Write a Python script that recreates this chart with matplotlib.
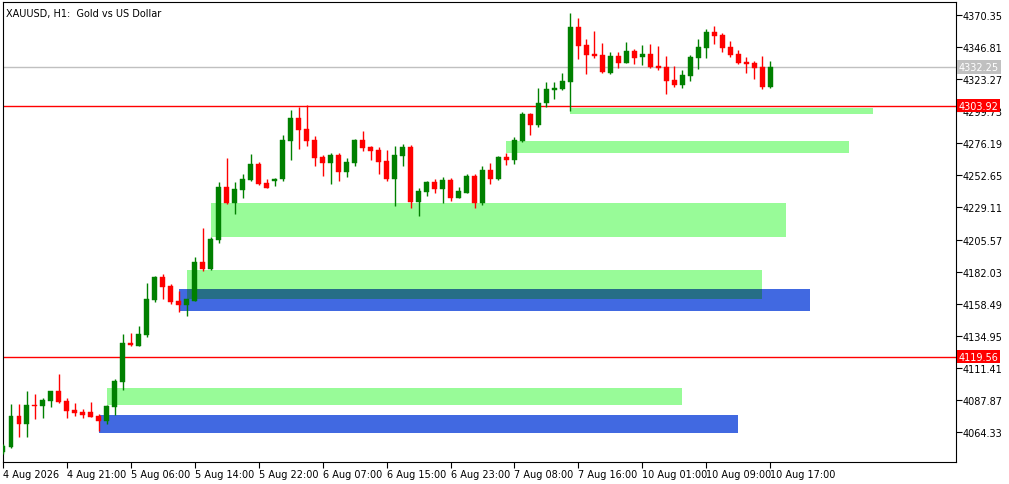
import numpy as np
import matplotlib.pyplot as plt
from matplotlib.patches import Rectangle

# XAUUSD H1 candles
opens = [4049.6, 4053.5, 4076.3, 4070.4, 4084.1, 4083.6, 4087.1, 4094.4, 4087.1, 4080.5, 4079.0, 4079.0, 4076.1,
         4072.6, 4082.9, 4101.2, 4129.6, 4127.6, 4135.5, 4161.2, 4178.1, 4171.5, 4160.5, 4157.7, 4160.7,
         4189.1, 4183.9, 4205.4, 4244.1, 4232.4, 4241.9, 4249.3, 4261.0, 4247.1, 4248.5, 4250.0, 4277.9,
         4294.8, 4286.7, 4278.6, 4266.1, 4261.7, 4267.6, 4255.1, 4261.7, 4278.6, 4273.5, 4271.3, 4263.2,
         4250.0, 4266.9, 4273.5, 4233.1, 4240.4, 4247.8, 4242.6, 4249.3, 4236.0, 4239.7, 4252.2, 4232.4,
         4256.6, 4250.0, 4266.1, 4263.9, 4277.9, 4297.7, 4289.6, 4305.8, 4315.3, 4316.0, 4321.2, 4361.5,
         4348.3, 4341.7, 4341.0, 4327.8, 4340.3, 4335.1, 4343.9, 4339.5, 4341.7, 4332.9, 4332.2, 4322.6,
         4319.0, 4325.6, 4338.8, 4346.1, 4357.9, 4355.7, 4346.9, 4341.7, 4335.9, 4335.1, 4332.2, 4317.5]
highs = [4055.5, 4084.9, 4084.9, 4094.4, 4092.2, 4089.3, 4094.4, 4106.9, 4089.3, 4085.6, 4081.2, 4086.3, 4077.5,
         4084.1, 4103.2, 4136.2, 4137.0, 4142.1, 4173.7, 4178.8, 4180.3, 4172.9, 4167.8, 4161.9, 4192.7,
         4214.0, 4207.4, 4247.8, 4265.4, 4247.8, 4253.7, 4268.3, 4262.5, 4250.0, 4250.7, 4282.3, 4300.6,
         4302.8, 4304.3, 4281.6, 4267.6, 4269.1, 4269.1, 4265.4, 4279.3, 4285.2, 4274.2, 4273.5, 4271.3,
         4274.2, 4275.7, 4274.9, 4243.4, 4248.5, 4250.0, 4251.5, 4250.7, 4244.1, 4253.7, 4253.7, 4259.5,
         4261.7, 4266.9, 4269.1, 4280.8, 4299.2, 4298.4, 4316.8, 4321.2, 4321.2, 4327.8, 4371.8, 4368.1,
         4352.7, 4358.6, 4349.8, 4343.2, 4343.2, 4350.5, 4345.4, 4348.3, 4349.1, 4347.6, 4340.3, 4332.9,
         4330.0, 4341.0, 4352.7, 4360.1, 4362.3, 4357.1, 4351.3, 4344.7, 4339.5, 4336.6, 4340.3, 4336.6]
lows = [4048.2, 4052.6, 4060.9, 4060.9, 4073.9, 4074.8, 4082.9, 4085.6, 4074.8, 4076.3, 4074.8, 4075.5, 4065.1,
        4070.4, 4077.0, 4095.4, 4127.4, 4127.6, 4134.0, 4159.7, 4161.9, 4158.3, 4152.6, 4149.7, 4160.7,
        4182.7, 4183.2, 4203.2, 4231.6, 4224.3, 4236.0, 4248.5, 4245.6, 4243.4, 4244.9, 4248.5, 4263.9,
        4272.0, 4274.2, 4259.5, 4252.2, 4246.3, 4248.5, 4251.5, 4259.5, 4270.5, 4263.9, 4253.7, 4248.5,
        4230.2, 4259.5, 4228.7, 4222.8, 4237.5, 4239.7, 4232.4, 4233.8, 4236.0, 4239.7, 4228.7, 4230.9,
        4246.3, 4249.3, 4260.3, 4261.0, 4277.1, 4282.3, 4288.2, 4302.8, 4308.7, 4315.3, 4299.9, 4338.1,
        4327.1, 4338.8, 4327.8, 4327.1, 4331.5, 4335.1, 4334.4, 4333.7, 4331.5, 4330.0, 4312.4, 4317.5,
        4316.8, 4321.9, 4330.7, 4338.8, 4349.1, 4343.2, 4339.5, 4334.4, 4327.8, 4323.4, 4316.0, 4316.8]
closes = [4054.0, 4076.3, 4070.4, 4084.1, 4083.6, 4087.8, 4094.4, 4086.3, 4080.0, 4078.5, 4077.0, 4075.5, 4072.6,
          4083.4, 4101.7, 4129.6, 4128.2, 4136.2, 4161.9, 4178.1, 4171.0, 4159.7, 4157.7, 4161.9, 4189.1,
          4184.2, 4206.0, 4244.1, 4232.4, 4242.6, 4250.0, 4261.0, 4246.3, 4243.4, 4250.0, 4278.6, 4294.8,
          4286.0, 4277.9, 4265.4, 4261.7, 4267.6, 4255.1, 4262.5, 4278.6, 4272.7, 4270.5, 4262.5, 4250.0,
          4267.6, 4273.5, 4233.1, 4241.2, 4247.8, 4242.6, 4249.3, 4236.0, 4241.2, 4252.2, 4232.4, 4256.6,
          4250.0, 4266.1, 4263.9, 4278.6, 4297.7, 4289.6, 4305.8, 4316.0, 4316.8, 4321.9, 4361.5, 4347.6,
          4341.0, 4340.3, 4328.5, 4340.3, 4335.1, 4343.9, 4338.8, 4341.7, 4332.2, 4331.5, 4321.9, 4319.0,
          4326.3, 4339.5, 4346.9, 4357.9, 4354.9, 4346.1, 4341.0, 4335.1, 4334.4, 4331.5, 4317.5, 4332.2]

# zones: start bar, end bar, top price, bottom price, colour
zone_start = [71, 63, 26, 23, 22, 13, 12]
zone_end = [108.9, 105.9, 98, 95, 101, 85, 92]
zone_top = [4302.1, 4277.9, 4232.4, 4183.2, 4169.3, 4096.6, 4076.8]
zone_bottom = [4297.7, 4269.1, 4207.4, 4161.9, 4153.1, 4084.1, 4063.6]
zone_color = ['#98fb98', '#98fb98', '#98fb98', '#98fb98', '#4169e1', '#98fb98', '#4169e1']

ytick_vals = [4370.35, 4346.81, 4323.27, 4299.73, 4276.19, 4252.65, 4229.11, 4205.57,
              4182.03, 4158.49, 4134.95, 4111.41, 4087.87, 4064.33]
xtick_pos = [0, 8, 16, 24, 32, 40, 48, 56, 64, 72, 80, 88, 96]
xtick_labels = ['4 Aug 2026', '4 Aug 21:00', '5 Aug 06:00', '5 Aug 14:00', '5 Aug 22:00',
                '6 Aug 07:00', '6 Aug 15:00', '6 Aug 23:00', '7 Aug 08:00', '7 Aug 16:00',
                '10 Aug 01:00', '10 Aug 09:00', '10 Aug 17:00']
red_levels = [4303.92, 4119.56]
bid = 4332.25

fig = plt.figure(figsize=(10.09, 4.85), dpi=100)
ax = fig.add_axes([3 / 1009, 22 / 485, 953 / 1009, 460 / 485])
ax.set_xlim(0.125, 119.25)
ax.set_ylim(4042.3, 4379.9)

# zones
for s, e, t, b, c in zip(zone_start, zone_end, zone_top, zone_bottom, zone_color):
    ax.add_patch(Rectangle((s, b), e - s, t - b, facecolor=c, edgecolor='none', zorder=1))
# overlap of green and blue zone drawn darker
s = max(zone_start[3], zone_start[4]); e = min(zone_end[3], zone_end[4])
t = min(zone_top[3], zone_top[4]); b = max(zone_bottom[3], zone_bottom[4])
ax.add_patch(Rectangle((s, b), e - s, t - b, facecolor='#266e86', edgecolor='none', zorder=1.5))

# level lines
for lv in red_levels:
    ax.axhline(lv, color='#ff0000', lw=1, zorder=2)
ax.axhline(bid, color='#c0c0c0', lw=1, zorder=2)

# candles
o = np.array(opens); h = np.array(highs); l = np.array(lows); c = np.array(closes)
x = np.arange(len(o))
cols = np.where(c >= o, '#008000', '#ff0000')
ax.vlines(x, l, h, colors=cols, lw=1, zorder=3)
ax.bar(x, np.maximum(np.abs(c - o), 0.4), bottom=np.minimum(o, c), width=0.62,
       color=cols, edgecolor=cols, linewidth=0.3, zorder=4)

ax.yaxis.tick_right()
ax.set_yticks(ytick_vals)
ax.set_yticklabels([f'{v:.2f}' for v in ytick_vals])
ax.set_xticks(xtick_pos)
ax.set_xticklabels(xtick_labels, ha='left')
ax.tick_params(axis='both', labelsize=7, length=4, width=0.8, pad=1, colors='black')
for sp in ax.spines.values():
    sp.set_linewidth(0.8)

# price labels on the axis
for lv in red_levels:
    ax.text(1.003, lv, f'{lv:.2f}', transform=ax.get_yaxis_transform(), fontsize=7, color='white',
            va='center', ha='left', bbox=dict(facecolor='#ff0000', edgecolor='none', pad=1.2), clip_on=False, zorder=10)
ax.text(1.003, bid, f'{bid:.2f}', transform=ax.get_yaxis_transform(), fontsize=7, color='white',
        va='center', ha='left', bbox=dict(facecolor='#c0c0c0', edgecolor='none', pad=1.2), clip_on=False, zorder=10)

ax.text(0.003, 0.988, 'XAUUSD, H1:  Gold vs US Dollar', transform=ax.transAxes, fontsize=7,
        va='top', ha='left')

fig.savefig('out.png', dpi=100)
